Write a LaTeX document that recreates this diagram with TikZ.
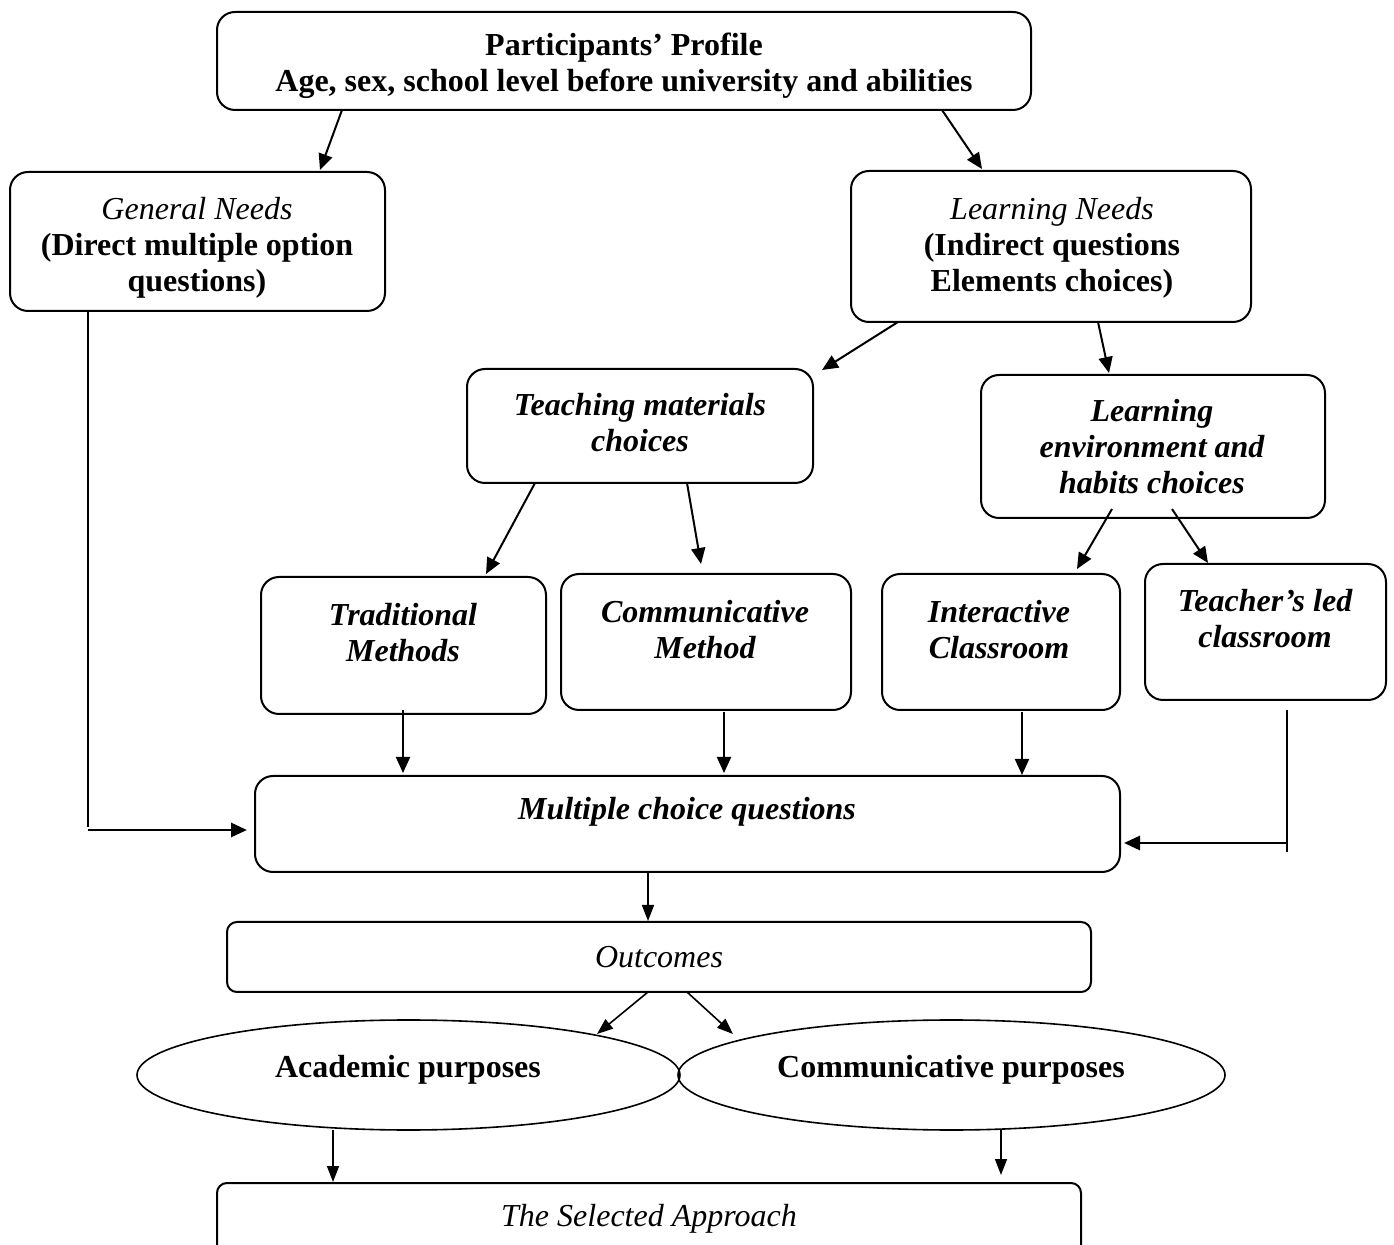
\documentclass[tikz,border=0pt]{standalone}
\usepackage{fontspec}
\setmainfont{Liberation Serif}
\usetikzlibrary{calc,arrows.meta,shapes.geometric}

\begin{document}
\begin{tikzpicture}[x=0.5pt,y=-0.5pt,
  every node/.style={font=\fontsize{16}{18}\selectfont},
  box/.style={draw,line width=1pt,rounded corners=9pt,inner sep=0pt,outer sep=0pt},
  flat/.style={draw,line width=1pt,rounded corners=5pt,inner sep=0pt,outer sep=0pt},
  oval/.style={draw,line width=0.8pt,ellipse,inner sep=0pt,outer sep=0pt},
  txt/.style={align=center,inner sep=0pt},
  arr/.style={line width=1pt,-{Triangle[length=8pt,width=7pt]}},
  heavyarr/.style={line width=1.4pt,-{Triangle[length=8pt,width=7pt]}},
  thinarr/.style={line width=0.8pt,-{Triangle[length=8pt,width=6pt]}},
  wire/.style={line width=0.8pt}]

\useasboundingbox (0,0) rectangle (1394,1245);

% boxes
\node[box,minimum width=407pt,minimum height=49pt] (prof) at (624,61) {};
\node[box,minimum width=187.5pt,minimum height=69.5pt] (gen) at (197.5,241.5) {};
\node[box,minimum width=200pt,minimum height=75.5pt] (learn) at (1051,246.5) {};
\node[box,minimum width=173pt,minimum height=57pt] (teach) at (640,426) {};
\node[box,minimum width=172pt,minimum height=71.5pt] (env) at (1153,446.5) {};
\node[box,minimum width=142.5pt,minimum height=68.5pt] (trad) at (403.5,645.5) {};
\node[box,minimum width=145pt,minimum height=68pt] (comm) at (706,642) {};
\node[box,minimum width=119pt,minimum height=68pt] (inter) at (1001,642) {};
\node[box,minimum width=120.5pt,minimum height=68pt] (tled) at (1265.5,632) {};
\node[box,minimum width=432.5pt,minimum height=48pt] (mcq) at (687.5,824) {};
\node[flat,minimum width=432pt,minimum height=35pt] (out) at (659,957) {};
\node[oval,minimum width=271.5pt,minimum height=55pt] (acad) at (408.5,1075) {};
\node[oval,minimum width=273.5pt,minimum height=55pt] (cpur) at (951.5,1075) {};
\node[flat,minimum width=432pt,minimum height=36pt] (sel) at (649,1219) {};

% texts
\node[txt,font=\fontsize{16}{18}\selectfont\bfseries] (profT) at (624,66)
  {Participants’ Profile\\Age, sex, school level before university and abilities};
\node[txt] (genT) at (197,248)
  {\textit{General Needs}\\\textbf{(Direct multiple option}\\\textbf{questions)}};
\node[txt] (learnT) at (1052,248)
  {\textit{Learning Needs}\\\textbf{(Indirect questions}\\\textbf{Elements choices)}};
\node[txt,font=\fontsize{16}{18}\selectfont\bfseries\itshape] (teachT) at (640,422.5)
  {Teaching materials\\choices};
\node[txt,font=\fontsize{16}{18}\selectfont\bfseries\itshape] (envT) at (1152,447)
  {Learning\\environment and\\habits choices};
\node[txt,font=\fontsize{16}{18}\selectfont\bfseries\itshape] (tradT) at (403,633)
  {Traditional\\Methods};
\node[txt,font=\fontsize{16}{18}\selectfont\bfseries\itshape] (commT) at (705,629.5)
  {Communicative\\Method};
\node[txt,font=\fontsize{16}{18}\selectfont\bfseries\itshape] (interT) at (999,629.5)
  {Interactive\\Classroom};
\node[txt,font=\fontsize{16}{18}\selectfont\bfseries\itshape] (tledT) at (1265,618.5)
  {Teacher’s led\\classroom};
\node[txt,font=\fontsize{16}{18}\selectfont\bfseries\itshape] (mcqT) at (687,812)
  {Multiple choice questions};
\node[txt,font=\fontsize{16}{18}\selectfont\itshape] (outT) at (659,957) {Outcomes};
\node[txt,font=\fontsize{16}{18}\selectfont\bfseries] (acadT) at (408,1070) {Academic purposes};
\node[txt,font=\fontsize{16}{18}\selectfont\bfseries] (cpurT) at (951,1070) {Communicative purposes};
\node[txt,font=\fontsize{16}{18}\selectfont\itshape] (selT) at (649,1219) {The Selected Approach};

% free ends of the side connectors
\coordinate (g1) at ($(gen.south west)+(78,516)$);
\coordinate (g2) at ($(gen.south west)+(78,519)$);
\coordinate (t1) at ($(tled.south west)+(142,152)$);
\coordinate (t2) at ($(tled.south west)+(142,143)$);

% connectors
\draw[arr] ($(prof.south west)+(125,0)$) -- ($(gen.north west)+(310,-2)$);
\draw[arr] ($(prof.south west)+(725,0)$) -- ($(learn.north west)+(131,-2)$);
\draw[arr] ($(learn.south west)+(47,0)$) -- ($(teach.north east)+(9,1)$);
\draw[arr] ($(learn.south west)+(247,0)$) -- ($(env.north west)+(128,-2)$);
\draw[arr] ($(teach.south west)+(68,0)$) -- ($(trad.north west)+(225,-3)$);
\draw[arr] ($(teach.south west)+(220,0)$) -- ($(comm.north west)+(140,-10)$);
\draw[arr] ($(env.south west)+(131,-9)$) -- ($(inter.north west)+(195,-5)$);
\draw[arr] ($(env.south west)+(191,-9)$) -- ($(tled.north west)+(63,-1)$);
\draw[arr] ($(trad.south west)+(142,-4)$) coordinate (ta) -- ($(ta |- mcq.north)+(0,-3)$);
\draw[arr] ($(comm.south west)+(163,2)$) coordinate (ca) -- ($(ca |- mcq.north)+(0,-3)$);
\draw[arr] ($(inter.south west)+(140,2)$) coordinate (ia) -- ($(ia |- mcq.north)+(0,-1)$);

\draw[wire] ($(gen.south west)+(78,0)$) -- (g1);
\draw[heavyarr] (g2) -- ($(g2 -| mcq.west)+(-8,0)$);
\draw[wire] ($(tled.south west)+(142,10)$) -- (t1);
\draw[heavyarr] (t2) -- ($(t2 -| mcq.east)+(4,0)$);

\draw[thinarr] ($(mcq.south west)+(393,0)$) coordinate (ma) -- ($(ma |- out.north)+(0,-1)$);
\draw[thinarr] ($(out.south west)+(421,0)$) -- ($(acad.center)+(188.5,-41)$);
\draw[thinarr] ($(out.south west)+(460,0)$) -- ($(cpur.center)+(-218.5,-41)$);
\draw[thinarr] ($(acad.south)+(-75.5,0)$) coordinate (aa) -- ($(aa |- sel.north)+(0,-1)$);
\draw[thinarr] ($(cpur.south)+(49.5,0)$) coordinate (pa) -- ($(pa |- sel.north)+(0,-8)$);

\end{tikzpicture}
\end{document}
